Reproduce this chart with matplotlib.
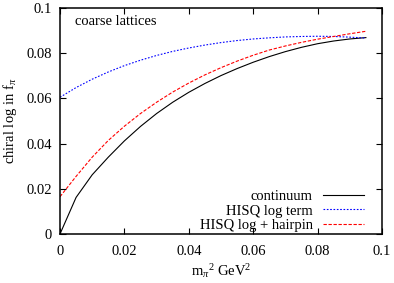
import numpy as np
import matplotlib
matplotlib.use('Agg')
import matplotlib.pyplot as plt

# values, m_pi^2 in steps of 0.005 GeV^2
mpi2 = [0.000, 0.005, 0.010, 0.015, 0.020, 0.025, 0.030, 0.035, 0.040, 0.045,
        0.050, 0.055, 0.060, 0.065, 0.070, 0.075, 0.080, 0.085, 0.090, 0.095]
continuum = [0.0000, 0.0162, 0.0262, 0.0340, 0.0412, 0.0476, 0.0533, 0.0583, 0.0627, 0.0666,
             0.0701, 0.0732, 0.0760, 0.0785, 0.0807, 0.0826, 0.0842, 0.0854, 0.0863, 0.0869]
hisq_log = [0.0605, 0.0648, 0.0685, 0.0717, 0.0745, 0.0769, 0.0790, 0.0808, 0.0823, 0.0836,
            0.0847, 0.0856, 0.0863, 0.0868, 0.0872, 0.0874, 0.0875, 0.0874, 0.0871, 0.0867]
hisq_hairpin = [0.0165, 0.0255, 0.0340, 0.0414, 0.0477, 0.0533, 0.0583, 0.0628, 0.0668, 0.0704,
                0.0736, 0.0765, 0.0791, 0.0814, 0.0832, 0.0848, 0.0862, 0.0874, 0.0886, 0.0897]

xticks = [0, 0.02, 0.04, 0.06, 0.08, 0.1]
xticklabels = ['0', '0.02', '0.04', '0.06', '0.08', '0.1']
yticks = [0, 0.02, 0.04, 0.06, 0.08, 0.1]
yticklabels = ['0', '0.02', '0.04', '0.06', '0.08', '0.1']

plt.rcParams['font.family'] = ['Liberation Serif', 'DejaVu Serif']
plt.rcParams['mathtext.fontset'] = 'custom'
plt.rcParams['mathtext.rm'] = 'Liberation Serif'
plt.rcParams['mathtext.it'] = 'Liberation Serif:italic'
plt.rcParams['font.size'] = 10.5

fig = plt.figure(figsize=(3.94, 2.83), dpi=100)
ax = fig.add_axes([60/394, 49/283, 322/394, 226/283])

ax.plot(mpi2, continuum, color='black', lw=0.8, label='continuum')
ax.plot(mpi2, hisq_log, color='#0000ff', lw=0.8, dashes=(1.5, 1.5), label='HISQ log term')
ax.plot(mpi2, hisq_hairpin, color='#ff0000', lw=0.8, dashes=(3, 1.5), label='HISQ log + hairpin')

ax.set_xlim(0, 0.1)
ax.set_ylim(0, 0.1)
ax.set_xticks(xticks)
ax.set_xticklabels(xticklabels)
ax.set_yticks(yticks)
ax.set_yticklabels(yticklabels)
ax.tick_params(direction='in', length=4, width=0.8, top=True, right=True)
ax.tick_params(axis='x', pad=8)
ax.tick_params(axis='y', pad=6)
for s in ax.spines.values():
    s.set_linewidth(1.1)

ax.set_xlabel(r'm$_\pi$$^2$ GeV$^2$', labelpad=3)
ax.set_ylabel(r'chiral log in f$_\pi$', labelpad=5)
ax.text(0.047, 0.94, 'coarse lattices', transform=ax.transAxes, va='center', ha='left')

ax.legend(loc='lower right', bbox_to_anchor=(0.944, 0.008), frameon=False, markerfirst=False,
          handlelength=2.8, handletextpad=0.7, labelspacing=0.1, borderpad=0, borderaxespad=0)

fig.savefig('out.png', dpi=100)
